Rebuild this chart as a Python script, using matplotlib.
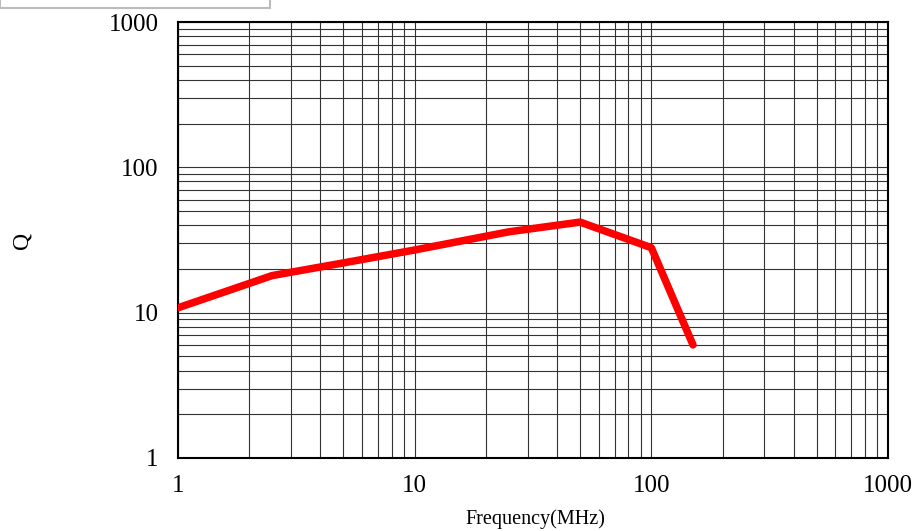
import matplotlib.pyplot as plt
from matplotlib.patches import Rectangle
from matplotlib.ticker import FixedLocator, LogLocator, NullFormatter

# Q vs frequency values
freq_mhz = [1, 2.5, 5, 10, 25, 50, 100, 150]
q_values = [10.8, 18, 22, 27, 36, 42, 28, 6]

major_ticks = [1, 10, 100, 1000]
tick_labels = ['1', '10', '100', '1000']

plt.rcParams['font.family'] = ['Liberation Serif', 'DejaVu Serif']

W, H = 917, 531
fig = plt.figure(figsize=(W / 100, H / 100), dpi=100)
ax = fig.add_axes([178 / W, 1 - 458 / H, (888 - 178) / W, (458 - 22) / H])

ax.plot(freq_mhz, q_values, color='#ff0000', lw=5.4,
        solid_capstyle='round', solid_joinstyle='round', zorder=3)

ax.set_xscale('log')
ax.set_yscale('log')
ax.set_xlim(1, 1000)
ax.set_ylim(1, 1000)

ax.xaxis.set_major_locator(FixedLocator(major_ticks))
ax.yaxis.set_major_locator(FixedLocator(major_ticks))
ax.set_xticklabels(tick_labels)
ax.set_yticklabels(tick_labels)
ax.xaxis.set_minor_locator(LogLocator(base=10, subs=range(2, 10)))
ax.yaxis.set_minor_locator(LogLocator(base=10, subs=range(2, 10)))
ax.xaxis.set_minor_formatter(NullFormatter())
ax.yaxis.set_minor_formatter(NullFormatter())

ax.grid(which='both', color='#333333', lw=0.8)
ax.tick_params(which='both', length=0, labelsize=18, colors='black')
ax.tick_params(axis='y', pad=14)
ax.tick_params(axis='x', pad=12)
for s in ax.spines.values():
    s.set_linewidth(1.5)
    s.set_color('black')

# axis titles
fig.text(535 / W, 1 - 519 / H, 'Frequency(MHz)', fontsize=14.5, ha='center', va='center')
fig.text(22 / W, 1 - 240 / H, 'Q', fontsize=17, rotation=90, ha='center', va='center')

# empty box peeking in at the top-left corner
fig.patches.append(Rectangle((0, 1 - 8 / H), 270 / W, 0.1, transform=fig.transFigure,
                             fill=False, edgecolor='#bbbbbb', lw=1.5))

plt.savefig('out.png', dpi=100)
plt.close()
